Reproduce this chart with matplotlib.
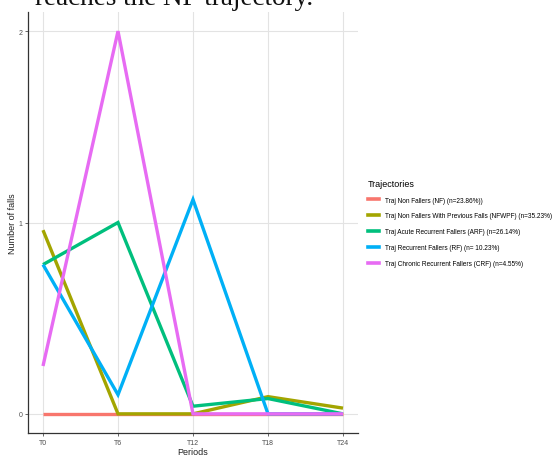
import matplotlib

matplotlib.use("Agg")

import matplotlib.pyplot as plt
from matplotlib.lines import Line2D

TEXT = "#222222"
MUTED = "#4D4D4D"
GRID = "#E3E3E3"

periods = ["T0", "T6", "T12", "T18", "T24"]
labels = [
    "Traj Non Fallers (NF) (n=23.86%))",
    "Traj Non Fallers With Previous Falls (NFWPF) (n=35.23%)",
    "Traj Acute Recurrent Fallers (ARF) (n=26.14%)",
    "Traj Recurrent Fallers (RF) (n= 10.23%)",
    "Traj Chronic Recurrent Fallers (CRF) (n=4.55%)",
]
colors = ["#F8766D", "#A3A500", "#00BF7D", "#00B0F6", "#E76BF3"]
nf = [0, 0, 0, 0, 0]
nfwpf = [0.96, 0, 0, 0.09, 0.03]
arf = [0.78, 1.0, 0.04, 0.08, 0]
rf = [0.78, 0.10, 1.12, 0, 0]
crf = [0.25, 2.0, 0, 0, 0]
series = [nf, nfwpf, arf, rf, crf]

plt.rcParams["font.family"] = ["Liberation Sans", "DejaVu Sans"]

fig = plt.figure(figsize=(5.54, 4.56), dpi=100)
ax = fig.add_axes([28 / 554, 1 - 434 / 456, 330 / 554, 421 / 456])

x = list(range(len(periods)))
for vals, col, lab in zip(series, colors, labels):
    ax.plot(x, vals, color=col, lw=2.4, label=lab, solid_capstyle="butt", solid_joinstyle="miter")

ax.set_xlim(-0.2, 4.2)
ax.set_ylim(-0.1, 2.1)
ax.set_xticks(x)
ax.set_xticklabels(periods)
ax.set_yticks([0, 1, 2])
ax.tick_params(labelsize=5, colors=MUTED, length=2, width=0.6, pad=2)
ax.grid(True, color=GRID, lw=0.8)
ax.set_axisbelow(True)
for side in ("top", "right"):
    ax.spines[side].set_visible(False)
for side in ("left", "bottom"):
    ax.spines[side].set_color("#333333")
    ax.spines[side].set_linewidth(0.9)
ax.set_xlabel("Periods", fontsize=6.5, color=TEXT, labelpad=1)
ax.set_ylabel("Number of falls", fontsize=6.5, color=TEXT, labelpad=1)

handles = [Line2D([0], [0], color=c, lw=2.6) for c in colors]
fig.legend(
    handles, labels, title="Trajectories", loc="upper left",
    bbox_to_anchor=(362 / 554, 1 - 174 / 456), frameon=False,
    fontsize=4.7, title_fontsize=6.5, handlelength=1.7, labelspacing=1.35,
    alignment="left", handletextpad=0.85,
)

fig.text(35 / 554, 1 - 5 / 456, "reaches the NF trajectory.", family="Liberation Serif",
         fontsize=19.5, color="#111111", va="baseline")

fig.savefig("out.png", dpi=100, facecolor="white")
